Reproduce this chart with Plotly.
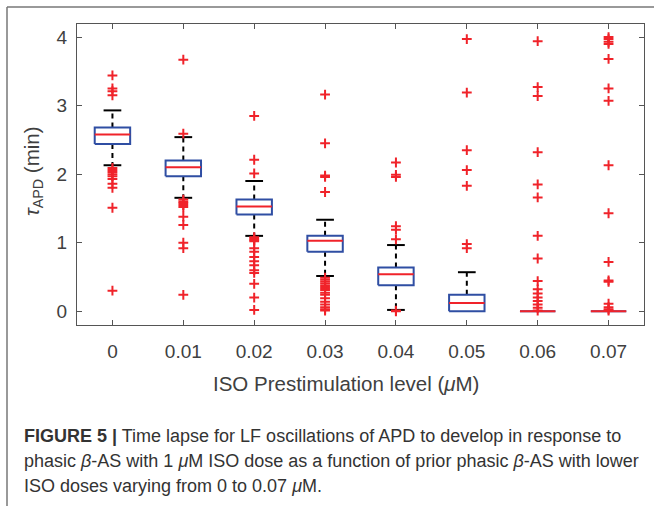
import plotly.graph_objects as go

# ---------------- data ----------------
categories = ["0", "0.01", "0.02", "0.03", "0.04", "0.05", "0.06", "0.07"]
q1 = [2.44, 1.97, 1.41, 0.87, 0.38, 0.00, 0.00, 0.00]
median = [2.58, 2.10, 1.53, 1.03, 0.54, 0.12, 0.00, 0.00]
q3 = [2.68, 2.20, 1.63, 1.10, 0.64, 0.24, 0.00, 0.00]
whisker_lo = [2.13, 1.655, 1.10, 0.515, 0.02, 0.00, 0.00, 0.00]
whisker_hi = [2.93, 2.54, 1.90, 1.335, 0.966, 0.57, 0.00, 0.00]
outliers = [
    [3.44, 3.25, 3.21, 3.15, 2.09, 2.06, 2.03, 2.00, 1.97, 1.93, 1.86, 1.80, 1.51, 0.30],
    [3.67, 2.59, 1.63, 1.60, 1.58, 1.55, 1.52, 1.38, 1.26, 1.00, 0.92, 0.24],
    [2.85, 2.21, 2.01, 1.08, 1.06, 1.04, 1.02, 0.92, 0.87, 0.79, 0.73, 0.67, 0.60, 0.56, 0.40, 0.20, 0.02],
    [3.16, 2.45, 1.98, 1.96, 1.74, 0.49, 0.46, 0.43, 0.40, 0.37, 0.34, 0.31, 0.27, 0.24, 0.19, 0.14, 0.10, 0.06, 0.03, 0.01],
    [2.17, 1.99, 1.96, 1.24, 1.19, 1.05, 0.00, 0.01],
    [3.97, 3.19, 2.35, 2.06, 1.83, 0.98, 0.92],
    [3.94, 3.27, 3.14, 2.32, 1.85, 1.66, 1.10, 0.77, 0.44, 0.32, 0.26, 0.20, 0.15, 0.10, 0.05, 0.01],
    [4.00, 3.97, 3.93, 3.90, 3.68, 3.25, 3.07, 2.13, 1.43, 0.72, 0.45, 0.43, 0.11, 0.06, 0.03, 0.01],
]
y_ticks = [0, 1, 2, 3, 4]
x_title = "ISO Prestimulation level (<i>μ</i>M)"
y_title = "<i>τ</i><sub>APD</sub> (min)"
caption_lines = [
    "<b>FIGURE 5 |</b> Time lapse for LF oscillations of APD to develop in response to",
    "phasic <i>β</i>-AS with 1 <i>μ</i>M ISO dose as a function of prior phasic <i>β</i>-AS with lower",
    "ISO doses varying from 0 to 0.07 <i>μ</i>M.",
]

# ---------------- style ----------------
W, H = 654, 506
BOX_HALF = 0.25
CAP_HALF = 0.125
BLUE = "#2f4ea3"
RED = "#f0232a"
GRAY = "#404040"
FONT = "Liberation Sans"

def px_x(p):
    return p / W

def px_y(p):
    return 1 - p / H

# build geometry from data arrays
bx, by, mx, my, wx, wy, cx, cy, ox, oy = [], [], [], [], [], [], [], [], [], []
for i in range(len(categories)):
    l, r = i - BOX_HALF, i + BOX_HALF
    bx += [l, r, r, l, l, None]
    by += [q1[i], q1[i], q3[i], q3[i], q1[i], None]
    mx += [l, r, None]
    my += [median[i], median[i], None]
    if whisker_hi[i] > q3[i]:
        wx += [i, i, None]
        wy += [q3[i], whisker_hi[i], None]
        cx += [i - CAP_HALF, i + CAP_HALF, None]
        cy += [whisker_hi[i], whisker_hi[i], None]
    if whisker_lo[i] < q1[i]:
        wx += [i, i, None]
        wy += [q1[i], whisker_lo[i], None]
        cx += [i - CAP_HALF, i + CAP_HALF, None]
        cy += [whisker_lo[i], whisker_lo[i], None]
    ox += [i] * len(outliers[i])
    oy += outliers[i]

fig = go.Figure()
fig.add_trace(go.Scatter(x=wx, y=wy, mode="lines",
                         line=dict(color="black", width=2, dash="5px,4px"),
                         hoverinfo="skip"))
fig.add_trace(go.Scatter(x=cx, y=cy, mode="lines",
                         line=dict(color="black", width=2), hoverinfo="skip"))
fig.add_trace(go.Scatter(x=bx, y=by, mode="lines",
                         line=dict(color=BLUE, width=2), hoverinfo="skip"))
fig.add_trace(go.Scatter(x=mx, y=my, mode="lines",
                         line=dict(color=RED, width=2), hoverinfo="skip"))
fig.add_trace(go.Scatter(x=ox, y=oy, mode="markers",
                         marker=dict(symbol="cross-thin", size=7,
                                     line=dict(color=RED, width=2)),
                         hoverinfo="skip"))

axis_common = dict(
    showline=True, linecolor="#555555", linewidth=1, mirror="ticks",
    ticks="inside", ticklen=5, tickcolor="#555555", showgrid=False,
    zeroline=False, tickfont=dict(family=FONT, size=19, color=GRAY),
)
fig.update_layout(
    width=W, height=H,
    margin=dict(l=0, r=0, t=0, b=0),
    paper_bgcolor="white", plot_bgcolor="white",
    showlegend=False,
    xaxis=dict(domain=[77 / W, 644 / W], range=[-0.5, 7.5],
               tickmode="array", tickvals=list(range(len(categories))),
               ticktext=categories, ticklabelstandoff=9, **axis_common),
    yaxis=dict(domain=[1 - 325 / H, 1 - 24 / H], range=[-0.2, 4.19],
               tickmode="array", tickvals=y_ticks,
               ticktext=[str(t) for t in y_ticks], ticklabelstandoff=5,
               **axis_common),
)

annotations = [
    dict(text=x_title, x=px_x(346), y=px_y(383), xref="paper", yref="paper",
         showarrow=False, xanchor="center", yanchor="middle",
         font=dict(family=FONT, size=20.5, color=GRAY)),
    dict(text=y_title, x=px_x(33), y=px_y(171), xref="paper", yref="paper",
         showarrow=False, xanchor="center", yanchor="middle", textangle=-90,
         font=dict(family=FONT, size=20.5, color=GRAY)),
]
for k, line in enumerate(caption_lines):
    annotations.append(dict(text=line, x=px_x(22), y=px_y(436 + 25 * k),
                            xref="paper", yref="paper", showarrow=False,
                            xanchor="left", yanchor="middle",
                            font=dict(family=FONT, size=18, color="#333333")))
fig.update_layout(annotations=annotations)

# outer frame lines (top and left)
fig.add_shape(type="line", xref="paper", yref="paper",
              x0=px_x(7), y0=px_y(7), x1=1, y1=px_y(7),
              line=dict(color="#777777", width=1.5))
fig.add_shape(type="line", xref="paper", yref="paper",
              x0=px_x(7), y0=px_y(7), x1=px_x(7), y1=0,
              line=dict(color="#777777", width=1.5))

fig.write_html("out.html", config={"displayModeBar": False},
               post_script="document.body.style.margin='0px';"
                           "document.body.style.padding='0px';")
